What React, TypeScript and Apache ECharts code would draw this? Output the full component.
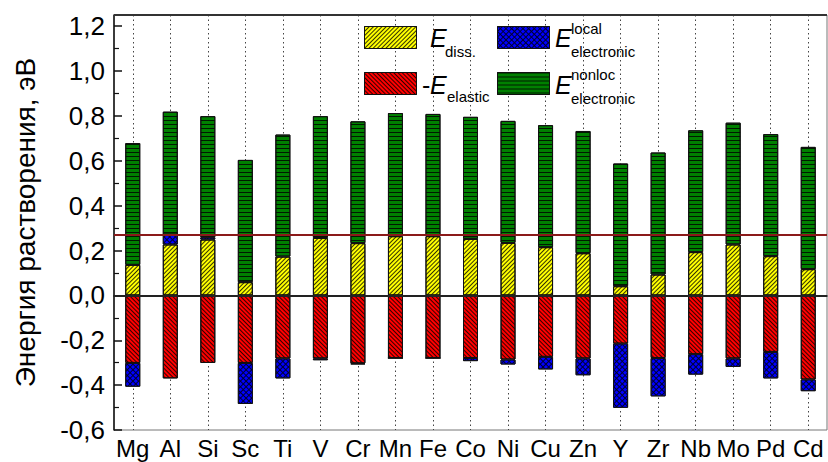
import React, { useEffect, useRef } from 'react';
import * as echarts from 'echarts';

const categories = ['Mg', 'Al', 'Si', 'Sc', 'Ti', 'V', 'Cr', 'Mn', 'Fe', 'Co', 'Ni', 'Cu', 'Zn', 'Y', 'Zr', 'Nb', 'Mo', 'Pd', 'Cd'];
const eDiss = [0.136, 0.227, 0.249, 0.059, 0.173, 0.256, 0.233, 0.264, 0.264, 0.252, 0.234, 0.215, 0.188, 0.041, 0.093, 0.193, 0.227, 0.175, 0.117];
const eElasticNeg = [-0.301, -0.37, -0.301, -0.301, -0.281, -0.281, -0.303, -0.279, -0.279, -0.279, -0.286, -0.274, -0.281, -0.215, -0.279, -0.262, -0.281, -0.252, -0.375];
const eLocal = [-0.106, 0.044, 0.01, -0.183, -0.089, -0.008, -0.004, 0, 0, -0.014, -0.022, -0.056, -0.075, -0.286, -0.171, -0.091, -0.038, -0.118, -0.052];
const eNonloc = [0.543, 0.548, 0.54, 0.545, 0.544, 0.543, 0.543, 0.549, 0.545, 0.544, 0.544, 0.544, 0.545, 0.547, 0.544, 0.543, 0.543, 0.544, 0.545];
const refLevel = 0.265;
const yMin = -0.6;
const yMax = 1.25;
const yInterval = 0.2;

const FF = '"Liberation Sans", Arial, sans-serif';

const stripe = (rotation: number, gap: number) => ({
  symbol: 'rect',
  symbolSize: 1,
  dashArrayX: [1, 0],
  dashArrayY: [1, gap],
  rotation,
  color: 'rgba(0,0,0,0.8)',
});

export default function App() {
  const ref = useRef<HTMLDivElement>(null);
  useEffect(() => {
    if (!ref.current) return;
    const chart = echarts.init(ref.current, undefined, { renderer: 'svg' });
    const border = { borderColor: '#111', borderWidth: 1 };
    const txt = (text: string, x: number, y: number, size: number, italic = false) => ({
      type: 'text',
      x,
      y,
      z: 100,
      style: {
        text,
        font: `${italic ? 'italic ' : ''}${size}px ${FF}`,
        fill: '#000',
        align: 'left',
        verticalAlign: 'middle',
        textAlign: 'left',
        textVerticalAlign: 'middle',
      },
    });
    const legendBase = (name: string, left: number, top: number) => ({
      data: [name],
      left,
      top,
      padding: 0,
      itemWidth: 52,
      itemHeight: 22,
      icon: 'rect',
      selectedMode: false,
      formatter: () => '',
      textStyle: { fontSize: 1 },
      itemStyle: { borderColor: '#111', borderWidth: 1 },
    });
    chart.setOption({
      animation: false,
      backgroundColor: '#fff',
      grid: { left: 114, right: 1, top: 15, bottom: 32, show: true, borderColor: '#777', borderWidth: 1, backgroundColor: 'transparent' },
      legend: [
        legendBase('diss', 364, 26),
        legendBase('elastic', 364, 72),
        legendBase('local', 497, 26),
        legendBase('nonloc', 497, 72),
      ],
      graphic: [
        { type: 'line', z: 100, shape: { x1: 114, y1: 15, x2: 827, y2: 15 }, style: { stroke: '#333', lineWidth: 2 } },
        txt('E', 430, 38.3, 25, true),
        txt('diss.', 445, 51.3, 15),
        txt('E', 555, 38.3, 25, true),
        txt('local', 571, 28.1, 15),
        txt('electronic', 571, 51.5, 15),
        txt('-', 422, 84.6, 25),
        txt('E', 430, 84.6, 25, true),
        txt('elastic', 447, 96.5, 15),
        txt('E', 555, 84.6, 25, true),
        txt('nonloc', 571, 74.8, 15),
        txt('electronic', 571, 98.8, 15),
      ],
      xAxis: {
        type: 'category',
        data: categories,
        boundaryGap: true,
        axisLine: { lineStyle: { color: '#111', width: 1.5 } },
        axisTick: { show: true, inside: true, alignWithLabel: true, length: 8, lineStyle: { color: '#111', width: 1.5 } },
        axisLabel: { color: '#000', fontSize: 24, fontFamily: FF, margin: 6, interval: 0 },
        splitLine: { show: true, alignWithLabel: true, lineStyle: { color: '#444', type: [1.5, 3], width: 1 } },
      },
      yAxis: {
        type: 'value',
        min: yMin,
        max: yMax,
        interval: yInterval,
        name: 'Энергия растворения, эВ',
        nameLocation: 'middle',
        nameGap: 75,
        nameTextStyle: { color: '#000', fontSize: 28, fontFamily: FF },
        axisLine: { show: true, lineStyle: { color: '#111', width: 1.5 } },
        axisTick: { show: true, inside: true, length: 8, lineStyle: { color: '#111', width: 1.5 } },
        minorTick: { show: true, splitNumber: 2, length: 5, lineStyle: { color: '#111', width: 1.2 } },
        splitLine: { show: false },
        axisLabel: {
          color: '#000',
          fontSize: 26,
          fontFamily: FF,
          margin: 9,
          formatter: (v: number) => (Math.abs(v * 5 - Math.round(v * 5)) < 1e-6 ? v.toFixed(1).replace('.', ',') : ''),
        },
      },
      series: [
        {
          name: 'diss',
          type: 'bar',
          stack: 'E',
          barWidth: 15,
          data: eDiss,
          itemStyle: { color: '#ffff00', ...border, decal: stripe(-Math.PI / 4, 2) },
        },
        {
          name: 'elastic',
          type: 'bar',
          stack: 'E',
          barWidth: 15,
          data: eElasticNeg,
          itemStyle: { color: '#ff0000', ...border, decal: stripe(Math.PI / 4, 2) },
        },
        {
          name: 'local',
          type: 'bar',
          stack: 'E',
          barWidth: 15,
          data: eLocal,
          itemStyle: {
            color: '#000033',
            ...border,
            decal: { symbol: 'rect', symbolSize: 1, dashArrayX: [2.5, 1], dashArrayY: [2.5, 1], rotation: Math.PI / 4, color: '#0000ff' },
          },
        },
        {
          name: 'nonloc',
          type: 'bar',
          stack: 'E',
          barWidth: 15,
          data: eNonloc,
          itemStyle: { color: '#008000', ...border, decal: stripe(0, 3) },
          markLine: {
            silent: true,
            symbol: 'none',
            label: { show: false },
            data: [
              { yAxis: 0, lineStyle: { color: '#222', width: 1.8, type: 'solid' } },
              { yAxis: refLevel, lineStyle: { color: '#8b1a1a', width: 1.8, type: 'solid' } },
            ],
          },
        },
      ],
    });
    return () => chart.dispose();
  }, []);
  return <div ref={ref} style={{ position: 'fixed', left: 0, top: 0, width: 828, height: 462 }} />;
}
